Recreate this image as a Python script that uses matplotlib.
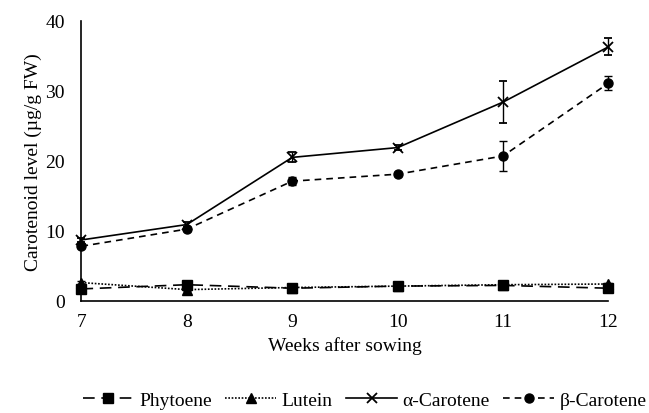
import matplotlib
matplotlib.use("Agg")
from matplotlib import pyplot as plt

plt.rcParams['font.family'] = ['Liberation Serif', 'DejaVu Serif']

weeks = [7, 8, 9, 10, 11, 12]
phytoene = [1.7, 2.3, 1.8, 2.1, 2.2, 1.8]
lutein = [2.6, 1.6, 1.9, 2.1, 2.3, 2.4]
alpha = [8.7, 10.9, 20.5, 21.9, 28.4, 36.3]
alpha_err = [0.3, 0.3, 0.7, 0.4, 3.0, 1.2]
beta = [7.8, 10.25, 17.1, 18.1, 20.7, 31.1]
beta_err = [0.3, 0.3, 0.6, 0.3, 2.1, 1.0]
small_err = [0.2, 0.2, 0.2, 0.2, 0.2, 0.2]

fig = plt.figure(figsize=(6.49, 4.14), dpi=100)
ax = fig.add_axes([0.1255, 0.271, 0.812, 0.676])

lw = 1.2
ax.errorbar(weeks, phytoene, yerr=small_err, c="k", lw=lw, ls=(0, (7, 4)), marker="s", ms=6.5,
            capsize=3, elinewidth=1, label="Phytoene")
ax.errorbar(weeks, lutein, yerr=small_err, c="k", lw=lw, ls=(0, (1, 1)), marker="^", ms=6.5,
            capsize=3, elinewidth=1, label="Lutein")
ax.errorbar(weeks, alpha, yerr=alpha_err, c="k", lw=lw, ls="-", marker="x", ms=6.5, mew=1.3,
            capsize=3, elinewidth=1, label="α-Carotene")
ax.errorbar(weeks, beta, yerr=beta_err, c="k", lw=lw, ls=(0, (4, 3)), marker="o", ms=6.5,
            capsize=3, elinewidth=1, label="β-Carotene")

# let markers at the ends draw past the axes
for art in ax.lines + list(ax.collections):
    art.set_clip_on(False)

ax.set_xlim(7, 12)
ax.set_ylim(0, 40)
ax.set_xticks(weeks)
ax.set_yticks([0, 10, 20, 30, 40])
ax.spines["top"].set_visible(False)
ax.spines["right"].set_visible(False)
ax.spines["left"].set_linewidth(1.2)
ax.spines["bottom"].set_linewidth(1.2)
ax.tick_params(length=0, labelsize=14)
ax.tick_params(axis="y", pad=12)
ax.tick_params(axis="x", pad=9)
ax.set_xlabel("Weeks after sowing", fontsize=14, labelpad=4)
ax.set_ylabel("Carotenoid level (µg/g FW)", fontsize=14, labelpad=2)

handles, labels = ax.get_legend_handles_labels()
handles = [h[0] for h in handles]
fig.legend(handles, labels, loc="center", bbox_to_anchor=(0.562, 0.031), ncol=4, frameon=False,
           fontsize=14, handlelength=2.6, columnspacing=0.7, handletextpad=0.3,
           borderpad=0, borderaxespad=0)

fig.savefig("out.png", dpi=100)
plt.close()
